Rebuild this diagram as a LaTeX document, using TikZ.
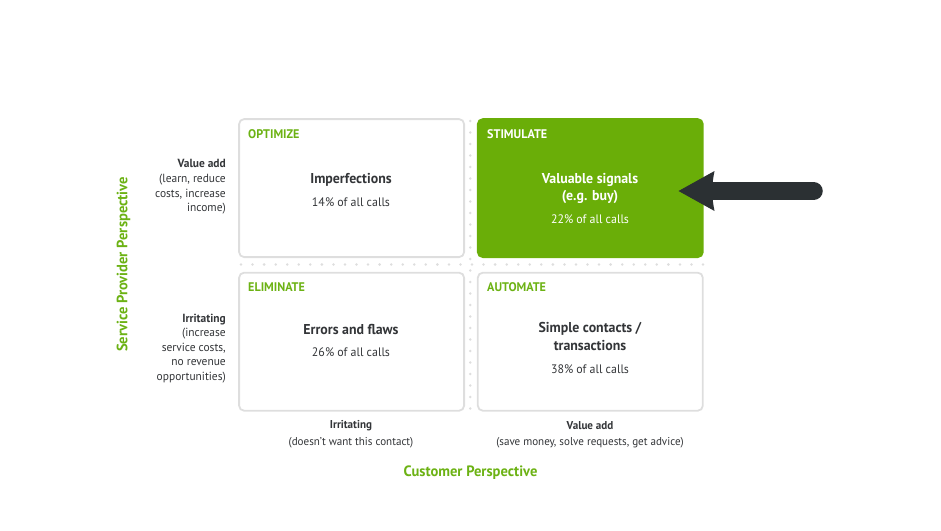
\documentclass[tikz,border=0pt]{standalone}
\usepackage{fontspec}
\setmainfont[FakeStretch=0.97]{PT Sans}
\definecolor{qgreen}{RGB}{106,174,8}
\definecolor{qlabel}{RGB}{108,178,20}
\definecolor{qtext}{RGB}{51,53,56}
\definecolor{qborder}{RGB}{222,222,222}
\definecolor{qdot}{RGB}{222,222,222}
\definecolor{qarrow}{RGB}{43,48,51}
\begin{document}
\begin{tikzpicture}[x=1pt,y=-1pt,
  quad/.style={draw=qborder, line width=1.8pt, rounded corners=5pt, minimum width=225pt, minimum height=138pt, inner sep=0pt, anchor=north west},
  quadhi/.style={quad, draw=qgreen, fill=qgreen},
  qtitle/.style={anchor=west, inner sep=0pt, font=\fontsize{12.5}{14}\selectfont\bfseries, text=qlabel},
  qtitlehi/.style={qtitle, text=white},
  qmain/.style={inner sep=0pt, font=\fontsize{14.3}{17}\selectfont\bfseries, text=qtext},
  qsub/.style={inner sep=0pt, font=\fontsize{12.3}{15}\selectfont, text=qtext},
  qside/.style={inner sep=0pt, align=right, anchor=east, font=\fontsize{11.8}{14.6}\selectfont, text=qtext},
  qbottom/.style={inner sep=0pt, font=\fontsize{11.4}{14}\selectfont, text=qtext},
  qaxis/.style={inner sep=0pt, font=\fontsize{15}{17}\selectfont\bfseries, text=qlabel},
  qdotc/.style={fill=qdot, draw=none}
]
\useasboundingbox (0,0) rectangle (941,530);

% dotted separators
\foreach \i in {0,...,40} {
  \fill[qdotc] (241+\i*11.55,264.5) circle (1.4pt);
}
\foreach \i in {0,...,25} {
  \fill[qdotc] (470.3,121+\i*11.5) circle (1.4pt);
}

% quadrants
\node[quad] (tl) at (238.2,118.2) {};
\node[quadhi] (tr) at (476.9,118.2) {};
\node[quad] (bl) at (238.2,271.8) {};
\node[quad] (br) at (476.9,271.8) {};

% titles
\node[qtitle] (tlt) at (248,134) {OPTIMIZE};
\node[qtitlehi] (trt) at (487,134) {STIMULATE};
\node[qtitle] (blt) at (248,287) {ELIMINATE};
\node[qtitle] (brt) at (487,287) {AUTOMATE};

% contents
\node[qmain] (tlm) at (351,179.5) {Imperfections};
\node[qsub] (tls) at (351,202) {14\% of all calls};

\node[qmain, text=white] (trm1) at (590,179.5) {Valuable signals};
\node[qmain, text=white] (trm2) at (590,197) {(e.g. buy)};
\node[qsub, text=white] (trs) at (590,219.5) {22\% of all calls};

\node[qmain] (blm) at (351,329) {Errors and flaws};
\node[qsub] (bls) at (351,352.5) {26\% of all calls};

\node[qmain] (brm1) at (590,328.5) {Simple contacts /};
\node[qmain] (brm2) at (590,346) {transactions};
\node[qsub] (brs) at (590,369.5) {38\% of all calls};

% left labels
\node[qside] (lv) at (226,187) {\textbf{Value add}\\(learn, reduce\\costs, increase\\income)};
\node[qside] (li) at (226,348.3) {\textbf{Irritating}\\(increase\\service costs,\\no revenue\\opportunities)};

% bottom labels
\node[qbottom, font=\fontsize{11.4}{14}\selectfont\bfseries] (bi1) at (351,426) {Irritating};
\node[qbottom] (bi2) at (351,442.5) {(doesn't want this contact)};
\node[qbottom, font=\fontsize{11.4}{14}\selectfont\bfseries] (bv1) at (590,426) {Value add};
\node[qbottom] (bv2) at (590,442.5) {(save money, solve requests, get advice)};

% axis titles
\node[qaxis, rotate=90] (ay) at (123.5,264.5) {Service Provider Perspective};
\node[qaxis] (ax) at (470.5,473) {Customer Perspective};

% arrow pointing at the stimulate box
\coordinate (atail) at (813.5,191);
\coordinate (aneck) at (710,191);
\coordinate (atip) at (678.5,191);
\draw[qarrow, line width=18.5pt, line cap=round] (atail) -- (aneck);
\fill[qarrow] (atip) -- ([shift={(36,-20)}]atip) .. controls ([shift={(33,-5)}]atip) and ([shift={(33,5)}]atip) .. ([shift={(36,20)}]atip) -- cycle;
\end{tikzpicture}
\end{document}
